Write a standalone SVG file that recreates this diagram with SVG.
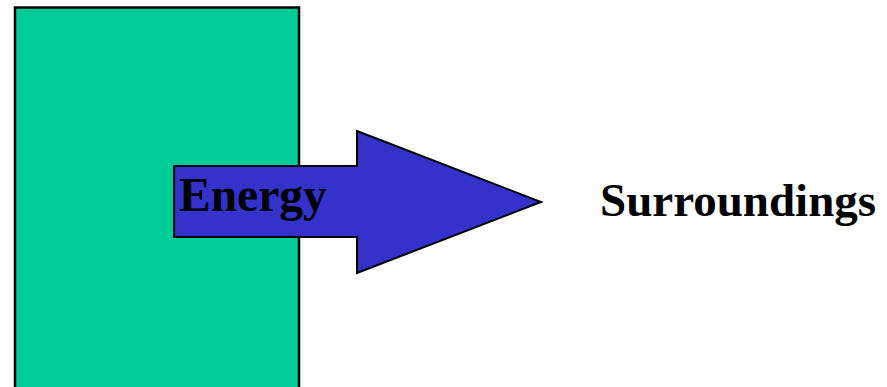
<svg xmlns="http://www.w3.org/2000/svg" width="887" height="387" viewBox="0 0 887 387">
<style>
.lbl{font-family:"Liberation Serif","Times New Roman",serif;font-weight:bold;font-size:47px;fill:#000}
</style>
<rect width="887" height="387" fill="#fff"/>
<g id="system">
<rect x="15" y="7.5" width="284" height="390" fill="#00CC99" stroke="#000" stroke-width="2.5"/>
</g>
<g id="connectors">
<g id="energy-arrow">
<polygon points="174,166 357,166 357,131 541,202 357,273 357,237 174,237" fill="#3333CC" stroke="#000" stroke-width="2"/>
<text class="lbl" x="179" y="211" style="font-size:47.5px">Energy</text>
</g>
</g>
<g id="surroundings">
<text class="lbl" x="600" y="216">Surroundings</text>
</g>
</svg>
